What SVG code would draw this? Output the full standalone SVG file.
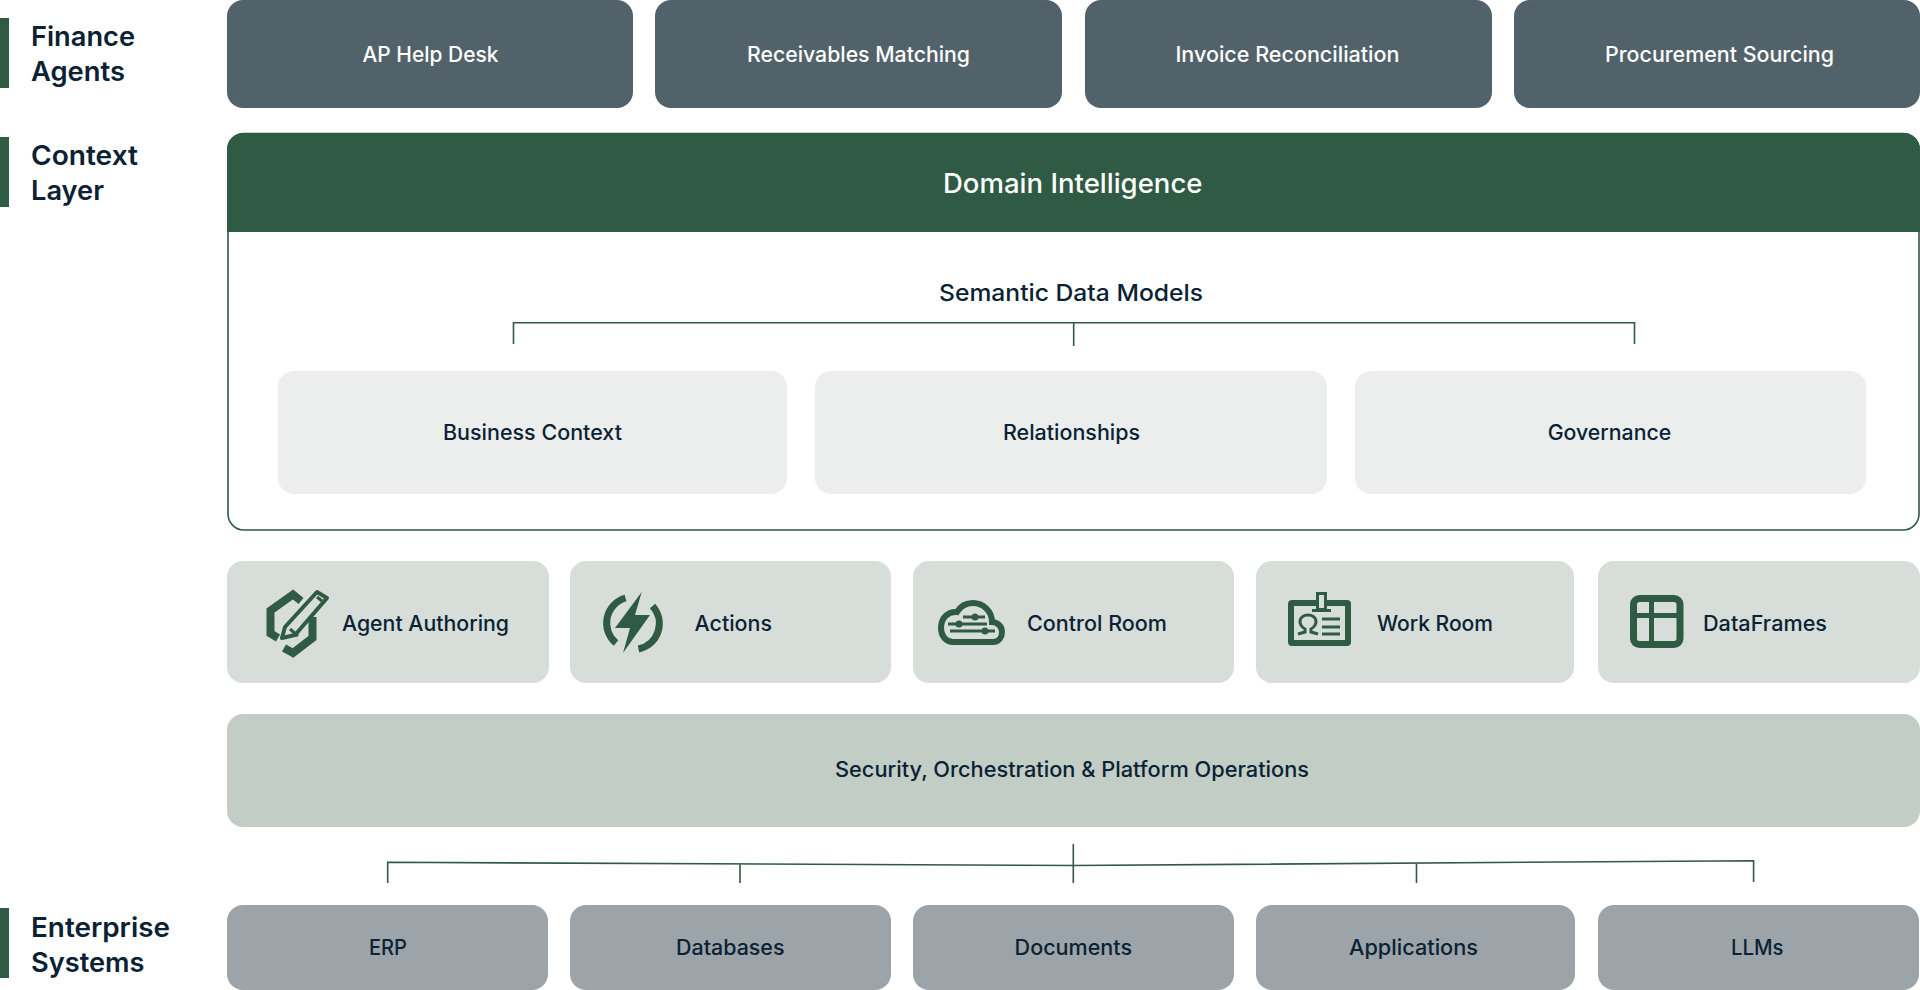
<svg xmlns="http://www.w3.org/2000/svg" width="1920" height="990" viewBox="0 0 1920 990">
<style>
text{font-family:"Inter","Noto Sans","Liberation Sans",sans-serif;fill:#0A2233;font-weight:500;font-size:21px}
.side{font-size:27px;font-weight:600}
.light{fill:#FFFFFF}
.head{font-size:27px}
.sem{font-size:23.5px}
.agent{fill:#52626B}
.inner{fill:#ECEEED}
.tool{fill:#D7DDD9}
.sec{fill:#C2CDC5}
.sys{fill:#9CA4A9}
.bar{fill:#2F5A43}
.line{fill:none;stroke:#2F5A43;stroke-width:1.6}
.ico{fill:none;stroke:#2F5A43;stroke-width:6}
.ico3{fill:none;stroke:#2F5A43;stroke-width:3}
.solid{fill:#2F5A43}
</style>
<rect width="1920" height="990" fill="#FFFFFF"/>
<g id="label-finance"><rect class="bar" x="0" y="18" width="9" height="70"/><text class="side" x="31" y="46" textLength="104" lengthAdjust="spacingAndGlyphs">Finance</text><text class="side" x="31" y="81" textLength="94" lengthAdjust="spacingAndGlyphs">Agents</text></g>
<g id="label-context"><rect class="bar" x="0" y="137" width="9" height="70"/><text class="side" x="31" y="165" textLength="107" lengthAdjust="spacingAndGlyphs">Context</text><text class="side" x="31" y="200" textLength="73" lengthAdjust="spacingAndGlyphs">Layer</text></g>
<g id="label-enterprise"><rect class="bar" x="0" y="908" width="9" height="70"/><text class="side" x="31" y="937" textLength="139" lengthAdjust="spacingAndGlyphs">Enterprise</text><text class="side" x="31" y="972" textLength="113.500" lengthAdjust="spacingAndGlyphs">Systems</text></g>

<g id="ap-help-desk"><rect class="agent" x="227" y="0" width="406" height="108" rx="16"/><text class="light" x="362.500" y="61.500" textLength="136" lengthAdjust="spacingAndGlyphs">AP Help Desk</text></g>
<g id="receivables-matching"><rect class="agent" x="655" y="0" width="407" height="108" rx="16"/><text class="light" x="747" y="61.500" textLength="223" lengthAdjust="spacingAndGlyphs">Receivables Matching</text></g>
<g id="invoice-reconciliation"><rect class="agent" x="1085" y="0" width="407" height="108" rx="16"/><text class="light" x="1175.500" y="61.500" textLength="224" lengthAdjust="spacingAndGlyphs">Invoice Reconciliation</text></g>
<g id="procurement-sourcing"><rect class="agent" x="1514" y="0" width="406" height="108" rx="16"/><text class="light" x="1605" y="61.500" textLength="229" lengthAdjust="spacingAndGlyphs">Procurement Sourcing</text></g>

<g id="domain-intelligence">
<rect x="228" y="133.500" width="1691" height="396.500" rx="16" fill="#FFFFFF" stroke="#2F5A43" stroke-width="1.6"/>
<path class="bar" d="M227 232V149a16 16 0 0 1 16-16H1904a16 16 0 0 1 16 16V232Z"/>
<text class="light head" x="943" y="192.500" textLength="259.500" lengthAdjust="spacingAndGlyphs">Domain Intelligence</text>
<text class="sem" x="939" y="300.500" textLength="264" lengthAdjust="spacingAndGlyphs">Semantic Data Models</text>
</g>
<g id="business-context"><rect class="inner" x="278" y="371" width="509" height="123" rx="16"/><text x="443" y="440" textLength="179" lengthAdjust="spacingAndGlyphs">Business Context</text></g>
<g id="relationships"><rect class="inner" x="815" y="371" width="512" height="123" rx="16"/><text x="1003" y="440" textLength="137" lengthAdjust="spacingAndGlyphs">Relationships</text></g>
<g id="governance"><rect class="inner" x="1355" y="371" width="511" height="123" rx="16"/><text x="1547.700" y="440" textLength="123.500" lengthAdjust="spacingAndGlyphs">Governance</text></g>

<g id="agent-authoring"><rect class="tool" x="227" y="561" width="322" height="122" rx="16"/>
<path class="ico" style="stroke-width:8" d="M301 601L293 594.500L270.500 610.500V633.500L278 638M284 648L293 653L312.500 638V617"/>
<path d="M285 627L317 592L327 598L295 635L282 638Z" fill="#D7DDD9" stroke="#2F5A43" stroke-width="4" stroke-linejoin="round"/>
<path class="ico3" d="M290 629L298 636M317 597L322 601"/>
<text x="342" y="630.500" textLength="167" lengthAdjust="spacingAndGlyphs">Agent Authoring</text></g>

<g id="actions"><rect class="tool" x="570" y="561" width="321" height="122" rx="16"/>
<path class="ico" style="stroke-width:7" d="M625.500 598A26 26 0 0 0 616 643M652.500 606A26 26 0 0 1 638.500 649"/>
<path class="solid" d="M641.700 592L615 628H630L623 653L650 615H635Z"/>
<text x="694.500" y="630.500" textLength="77.500" lengthAdjust="spacingAndGlyphs">Actions</text></g>

<g id="control-room"><rect class="tool" x="913" y="561" width="321" height="122" rx="16"/>
<path class="ico" d="M953 642H993C999 642 1002 637 1002 632C1002 626 997 622 992 622C992 611 983 603 973 603C965 603 960 607 957 612C948 611 941 618 941 628C941 636 946 642 953 642Z"/>
<path class="ico3" d="M963 617H985M948 624H987M950 631H995"/>
<circle class="solid" cx="975" cy="617" r="3.500"/><circle class="solid" cx="959" cy="624" r="3.500"/><circle class="solid" cx="985" cy="631" r="3.500"/>
<text x="1027" y="630.500" textLength="140" lengthAdjust="spacingAndGlyphs">Control Room</text></g>

<g id="work-room"><rect class="tool" x="1256" y="561" width="318" height="122" rx="16"/>
<rect class="ico" x="1291" y="603" width="57" height="40" rx="1"/>
<rect x="1317.500" y="593.500" width="8" height="16" fill="#D7DDD9" stroke="#2F5A43" stroke-width="3"/>
<path class="ico3" d="M1312 610.500H1331M1322 619H1340M1322 627H1340M1322 634H1340"/>
<path class="ico3" d="M1298 634L1305 632V629C1301 627 1300 623 1300 622C1300 617 1304 615 1308 615C1312 615 1316 617 1316 622C1316 623 1315 627 1311 629V632L1318 634"/>
<text x="1377" y="630.500" textLength="116" lengthAdjust="spacingAndGlyphs">Work Room</text></g>

<g id="dataframes"><rect class="tool" x="1598" y="561" width="322" height="122" rx="16"/>
<rect class="ico" style="stroke-width:7" x="1633.500" y="598.500" width="46.500" height="46" rx="6"/>
<path class="ico" style="stroke-width:5" d="M1651.500 598V645M1634 615.500H1680"/>
<text x="1703" y="630.500" textLength="124" lengthAdjust="spacingAndGlyphs">DataFrames</text></g>

<g id="security"><rect class="sec" x="227" y="714" width="1693" height="113" rx="16"/><text x="835" y="777" textLength="474" lengthAdjust="spacingAndGlyphs">Security, Orchestration &amp; Platform Operations</text></g>

<g id="erp"><rect class="sys" x="227" y="905" width="321" height="85" rx="16"/><text x="369" y="955" textLength="38" lengthAdjust="spacingAndGlyphs">ERP</text></g>
<g id="databases"><rect class="sys" x="570" y="905" width="321" height="85" rx="16"/><text x="676" y="955" textLength="108.500" lengthAdjust="spacingAndGlyphs">Databases</text></g>
<g id="documents"><rect class="sys" x="913" y="905" width="321" height="85" rx="16"/><text x="1014.600" y="955" textLength="117.400" lengthAdjust="spacingAndGlyphs">Documents</text></g>
<g id="applications"><rect class="sys" x="1256" y="905" width="319" height="85" rx="16"/><text x="1349" y="955" textLength="129" lengthAdjust="spacingAndGlyphs">Applications</text></g>
<g id="llms"><rect class="sys" x="1598" y="905" width="321" height="85" rx="16"/><text x="1731" y="955" textLength="52.600" lengthAdjust="spacingAndGlyphs">LLMs</text></g>

<g id="connectors">
<path class="line" d="M513.5 344V322.7H1634.5V344M1073.7 322.7V346"/>
<path class="line" d="M387.7 883V862.3L1073 865.5L1753.6 860.7V882M740 864V883M1073.3 844V883M1416.5 864V883"/>
</g>
</svg>
